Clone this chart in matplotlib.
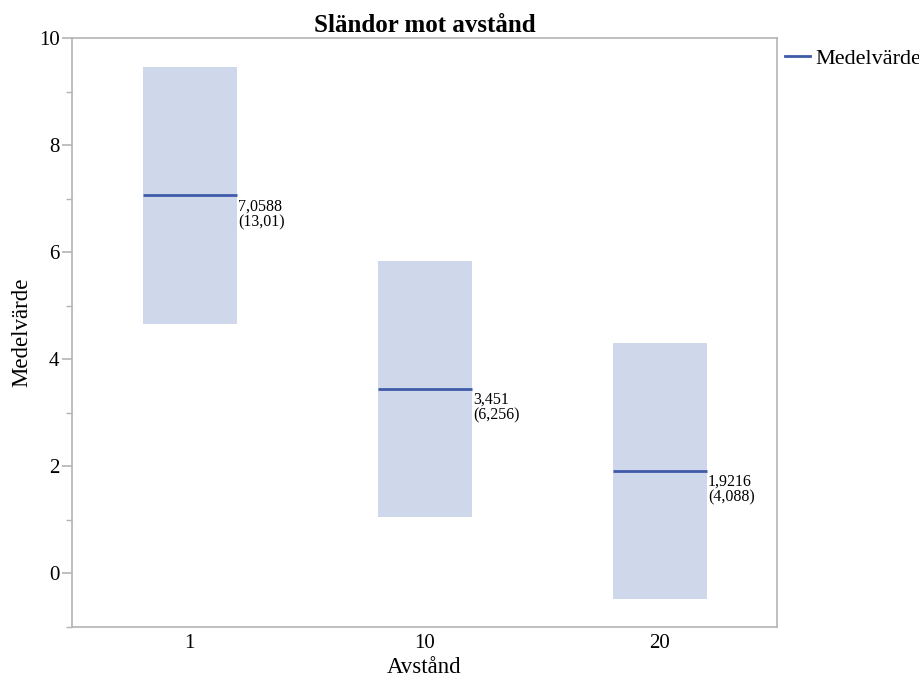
import matplotlib
matplotlib.use("Agg")
import matplotlib.pyplot as plt
from matplotlib.patches import Rectangle
from matplotlib.lines import Line2D
from matplotlib.ticker import MultipleLocator

plt.rcParams['font.family'] = ['Liberation Serif', 'DejaVu Serif']

categories = ["1", "10", "20"]
means = [7.0588, 3.451, 1.9216]
spreads = ["13,01", "6,256", "4,088"]
band_low = [4.66, 1.06, -0.47]
band_high = [9.45, 5.84, 4.31]
mean_labels = ["7,0588", "3,451", "1,9216"]

band_color = "#CFD8EA"
line_color = "#3F5AA8"
axis_color = "#B4B4B4"

fig = plt.figure(figsize=(9.2, 6.77), dpi=100)
ax = fig.add_axes([0.0783, 0.0739, 0.7663, 0.8700])

half_w = 0.2
for i, (lo, hi, m) in enumerate(zip(band_low, band_high, means)):
    ax.add_patch(Rectangle((i - half_w, lo), 2 * half_w, hi - lo,
                           facecolor=band_color, edgecolor="none", zorder=1))
    ax.plot([i - half_w, i + half_w], [m, m], color=line_color, lw=2, zorder=2,
            solid_capstyle="butt")
    ax.annotate(f"{mean_labels[i]}\n({spreads[i]})", xy=(i + half_w, m),
                xytext=(1, -2), textcoords="offset points",
                ha="left", va="top", fontsize=11.5, linespacing=1.0)

ax.set_xlim(-0.5, len(categories) - 0.5)
ax.set_ylim(-1, 10)
ax.set_xticks(range(len(categories)))
ax.set_xticklabels(categories)
ax.yaxis.set_major_locator(MultipleLocator(2))
ax.yaxis.set_minor_locator(MultipleLocator(1))

for s in ax.spines.values():
    s.set_color(axis_color)
    s.set_linewidth(1.2)

ax.tick_params(axis="both", which="major", labelsize=15, color=axis_color,
               length=7, width=1.2, pad=2)
ax.tick_params(axis="y", which="minor", color=axis_color, length=4, width=1)
ax.tick_params(axis="x", which="major", length=0, pad=5)

ax.set_xlabel("Avstånd", fontsize=16.5, labelpad=3)
ax.set_ylabel("Medelvärde", fontsize=16.5, labelpad=5)
ax.set_title("Sländor mot avstånd", fontsize=18, fontweight="bold", pad=4)

handle = Line2D([], [], color=line_color, lw=2)
fig.legend([handle], ["Medelvärde"], loc="upper left",
           bbox_to_anchor=(0.8533, 0.9291), frameon=False, fontsize=16,
           handlelength=1.13, handletextpad=0.23, borderaxespad=0, borderpad=0)

fig.savefig("out.png", dpi=100)
